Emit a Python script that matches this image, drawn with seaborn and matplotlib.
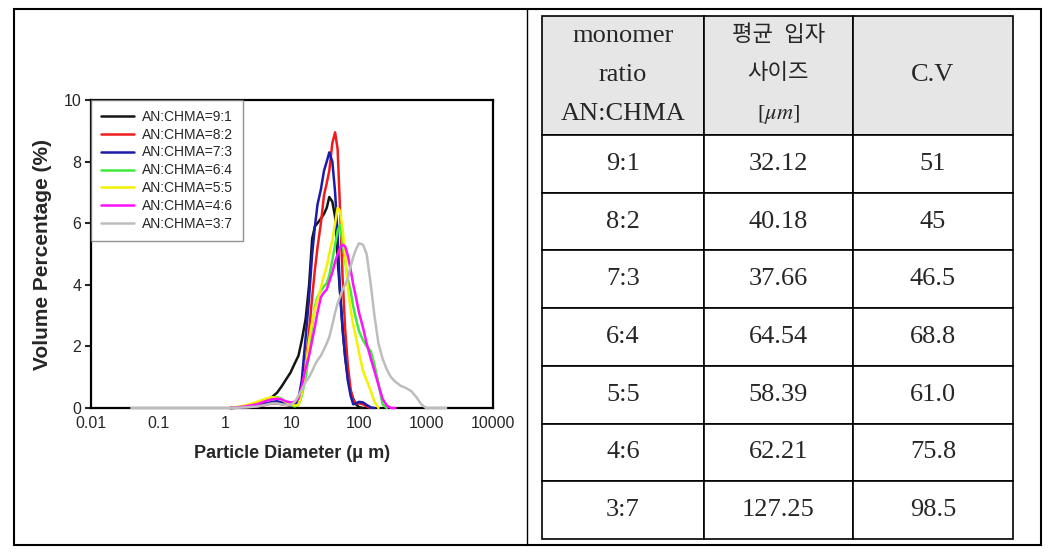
import numpy as np
import pandas as pd
import matplotlib
matplotlib.use("Agg")
import matplotlib.pyplot as plt
from matplotlib.patches import Rectangle
from matplotlib.lines import Line2D
from matplotlib.ticker import FixedLocator, FuncFormatter, NullLocator
import seaborn as sns

nan = np.nan

# particle size grid (um)
SIZES = [0.04, 1.2, 2, 3, 4, 5, 6, 7, 8, 9.5, 11, 12.5, 14, 16, 18, 20, 22, 24, 27, 30,
         33, 36, 40, 44, 48, 52, 57, 62, 68, 75, 82, 90, 100, 115, 130, 150, 170, 195,
         225, 260, 300, 350, 420, 500, 600, 720, 850, 1000, 2000]

r91 = [nan, 0, 0.03, 0.1, 0.2, 0.35, 0.5, 0.7, 0.9, 1.15, 1.45, 1.7, 2.2, 2.9, 4.0, 5.5,
       5.9, 6.0, 6.15, 6.3, 6.5, 6.85, 6.7, 6.2, 4.8, 3.8, 2.6, 1.66, 1.0, 0.55, 0.3, 0.12,
       0.03, 0] + [nan] * 15
r82 = [nan, 0, 0.02, 0.05, 0.1, 0.15, 0.15, 0.12, 0.1, 0.08, 0.1, 0.2, 0.6, 1.4, 2.5, 3.6,
       4.5, 5.2, 6.0, 6.9, 7.3, 7.7, 8.6, 8.95, 8.4, 6.5, 4.2, 2.6, 1.4, 0.6, 0.26, 0.15,
       0.15, 0.12, 0.05, 0] + [nan] * 13
r73 = [nan, 0, 0.02, 0.06, 0.12, 0.2, 0.22, 0.18, 0.12, 0.08, 0.1, 0.3, 0.9, 2.3, 3.6, 5.0,
       5.9, 6.6, 7.1, 7.7, 8.0, 8.3, 8.0, 7.0, 5.6, 3.8, 2.5, 1.7, 0.9, 0.4, 0.12, 0.15,
       0.2, 0.18, 0.1, 0.02, 0] + [nan] * 12
r64 = [nan, 0, 0.05, 0.15, 0.28, 0.35, 0.35, 0.3, 0.2, 0.1, 0.05, 0.1, 0.4, 1.0, 1.8, 2.7,
       3.3, 3.6, 3.8, 3.95, 4.05, 4.3, 4.8, 5.3, 5.75, 5.95, 5.3, 4.8, 4.2, 3.8, 3.3, 2.9,
       2.5, 2.2, 2.0, 1.85, 1.4, 0.8, 0.12, 0] + [nan] * 9
r55 = [nan, 0, 0.08, 0.2, 0.3, 0.35, 0.33, 0.28, 0.2, 0.12, 0.08, 0.1, 0.5, 1.3, 2.2, 2.8,
       3.2, 3.5, 3.9, 4.3, 4.6, 5.0, 5.45, 6.0, 6.5, 6.4, 5.8, 5.0, 3.9, 3.2, 2.7, 2.3,
       1.8, 1.2, 0.9, 0.55, 0.2, 0] + [nan] * 11
r46 = [nan, 0, 0.05, 0.12, 0.22, 0.28, 0.3, 0.28, 0.22, 0.18, 0.2, 0.3, 0.7, 1.3, 1.7, 2.2,
       2.65, 3.1, 3.6, 3.75, 3.85, 4.1, 4.4, 4.75, 5.0, 5.2, 5.3, 5.25, 4.95, 4.5, 4.0, 3.6,
       3.1, 2.6, 2.1, 1.6, 1.2, 0.75, 0.3, 0.08, 0, 0] + [nan] * 7
r37 = [0, 0, 0.02, 0.05, 0.1, 0.15, 0.15, 0.12, 0.1, 0.1, 0.2, 0.4, 0.6, 0.85, 1.0, 1.2,
       1.4, 1.55, 1.7, 1.9, 2.1, 2.3, 2.7, 3.1, 3.4, 3.6, 3.85, 4.0, 4.2, 4.6, 4.9, 5.15,
       5.35, 5.3, 5.0, 4.0, 3.0, 2.1, 1.6, 1.25, 1.0, 0.85, 0.72, 0.65, 0.55, 0.35, 0.12,
       0, 0]

labels = ["AN:CHMA=9:1", "AN:CHMA=8:2", "AN:CHMA=7:3", "AN:CHMA=6:4",
          "AN:CHMA=5:5", "AN:CHMA=4:6", "AN:CHMA=3:7"]
series = [r91, r82, r73, r64, r55, r46, r37]
colors = ["#151515", "#ee1c1c", "#1c1caa", "#3ee83e", "#f2f200", "#ff10ff", "#bdbdbd"]

x_ticks = [0.01, 0.1, 1, 10, 100, 1000, 10000]

# table contents
tbl_header = ["monomer\nratio\nAN:CHMA", "평균  입자\n사이즈\n[$\\mu m$]", "C.V"]
tbl_ratio = ["9:1", "8:2", "7:3", "6:4", "5:5", "4:6", "3:7"]
tbl_size = ["32.12", "40.18", "37.66", "64.54", "58.39", "62.21", "127.25"]
tbl_cv = ["51", "45", "46.5", "68.8", "61.0", "75.8", "98.5"]

df = pd.concat([pd.DataFrame({"size": SIZES, "vol": s, "ratio": lab})
                for lab, s in zip(labels, series)]).dropna()

sns.set_style("white")
plt.rcParams["font.family"] = ["Liberation Sans", "DejaVu Sans"]
plt.rcParams["mathtext.fontset"] = "stix"

fig = plt.figure(figsize=(10.6, 5.54), dpi=100)
ax = fig.add_axes([91 / 1060, 146 / 554, 402 / 1060, 308 / 554])

sns.lineplot(data=df, x="size", y="vol", hue="ratio", hue_order=labels,
             palette=dict(zip(labels, colors)), estimator=None, sort=True,
             linewidth=1.8, ax=ax)
for ln in ax.lines:
    ln.set_clip_on(False)
    ln.set_zorder(3)

ax.set_xscale("log")
ax.set_xlim(0.01, 10000)
ax.set_ylim(0, 10)
ax.xaxis.set_major_locator(FixedLocator(x_ticks))
ax.xaxis.set_minor_locator(NullLocator())
ax.xaxis.set_major_formatter(FuncFormatter(lambda v, p: f"{v:g}"))
ax.set_yticks([0, 2, 4, 6, 8, 10])
ax.tick_params(axis="x", direction="in", length=4, width=1.5, labelsize=11.5, pad=6)
ax.tick_params(axis="y", direction="out", length=4, width=1.5, labelsize=11.5, pad=3,
               left=True)
for sp in ax.spines.values():
    sp.set_color("black")
    sp.set_linewidth(1.6)
ax.set_xlabel("Particle Diameter (μ m)", fontsize=13, fontweight="bold", labelpad=10)
ax.set_ylabel("Volume Percentage (%)", fontsize=15, fontweight="bold", labelpad=8)

h, l = ax.get_legend_handles_labels()
leg = ax.legend(h, l, loc="upper left", borderaxespad=0, fontsize=10, frameon=True,
                fancybox=False, edgecolor="#777777", handlelength=2.4,
                handletextpad=0.6, labelspacing=0.28, borderpad=0.7)
leg.get_frame().set_linewidth(1.0)

# outer frame and divider
fig.add_artist(Rectangle((14 / 1060, 9 / 554), 1027 / 1060, 536 / 554,
                         transform=fig.transFigure, fill=False, lw=1.5, color="black"))
fig.add_artist(Line2D([527 / 1060, 527 / 1060], [9 / 554, 545 / 554],
                      transform=fig.transFigure, lw=1.0, color="black"))

# table
tax = fig.add_axes([542 / 1060, 15 / 554, 471 / 1060, 523 / 554])
tax.axis("off")
cells = [[a, b, c] for a, b, c in zip(tbl_ratio, tbl_size, tbl_cv)]
tab = tax.table(cellText=cells, colLabels=tbl_header, cellLoc="center",
                colWidths=[0.344, 0.316, 0.340], bbox=[0, 0, 1, 1])
tab.auto_set_font_size(False)
for (r, c), cell in tab.get_celld().items():
    cell.set_edgecolor("black")
    cell.set_linewidth(1.2)
    txt = cell.get_text()
    txt.set_fontfamily(["Liberation Serif", "Noto Sans CJK KR"])
    txt.set_fontsize(19)
    if r == 0:
        cell.set_height(2.06)
        cell.set_facecolor("#e6e6e6")
        txt.set_linespacing(2.0)
        if c == 1:
            txt.set_fontsize(16)
            txt.set_linespacing(2.2)
    else:
        cell.set_height(1.0)
        cell.set_facecolor("white")

fig.savefig("out.png", dpi=100)
